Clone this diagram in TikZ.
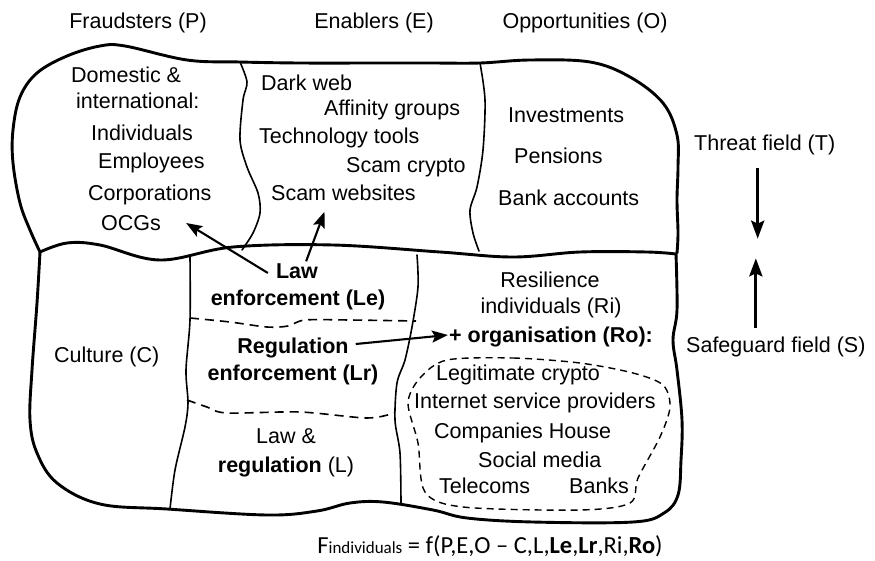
\documentclass[tikz,border=0pt]{standalone}
\usepackage{fontspec}
\setmainfont{Liberation Sans}
\newfontfamily\formulafont{Carlito}
\usetikzlibrary{arrows.meta}

\begin{document}
\begin{tikzpicture}[x=1pt,y=-1pt,
  outline/.style={line width=2.9pt, line join=round, line cap=round},
  divider/.style={line width=1.6pt, line cap=round},
  dashline/.style={line width=1.6pt, dash pattern=on 9pt off 6pt},
  dashblob/.style={line width=1.4pt, dash pattern=on 7pt off 5pt},
  lbl/.style={font=\fontsize{21.5}{25}\selectfont, inner sep=1pt, text height=15pt, text depth=4pt},
  bl/.style={lbl, font=\fontsize{21.5}{25}\selectfont\bfseries},
  arr/.style={line width=2.1pt, -{Stealth[length=16pt,width=12pt,inset=3pt]}},
  bigarr/.style={line width=3.2pt, -{Stealth[length=18pt,width=13pt,inset=3pt]}},
  ]
\useasboundingbox (0,0) rectangle (875,560);

% threat field outline
\draw[outline] plot[smooth, tension=0.6] coordinates {
  (40,252) (30,230) (20,203) (13,163) (13,130) (20,97) (37,73) (67,56) (100,46)
  (125,46) (187,60) (240,62) (300,63) (380,63) (430,63) (480,63) (530,60)
  (590,62) (630,77) (663,103) (677,135) (678,167) (677,200) (678,233) (677,253)};
% boundary between the two fields
\draw[outline] plot[smooth, tension=0.6] coordinates {
  (40,252) (67,243) (100,245) (160,260) (233,247) (333,245) (440,252) (513,257)
  (580,252) (647,252) (676,254)};
% safeguard field outline
\draw[outline] plot[smooth, tension=0.6] coordinates {
  (40,252) (37,303) (32,370) (30,420) (37,453) (57,483) (100,504) (167,509)
  (267,515) (317,511) (350,503) (383,502) (433,510) (467,518) (533,522)
  (633,522) (664,513) (678,495) (681,460) (682,420) (677,370) (673,340)
  (677,310) (676,254)};

% column dividers
\draw[divider] plot[smooth] coordinates {
  (240,62) (247,82) (243,100) (240,140) (247,167) (258,193) (260,213) (253,233) (242,250)};
\draw[divider] plot[smooth] coordinates {
  (480,63) (485,100) (483,150) (477,187) (470,210) (473,233) (479,251)};
\draw[divider] plot[smooth] coordinates {
  (190,257) (190,320) (186,370) (188,403) (185,427) (175,470) (170,509)};
\draw[divider] plot[smooth] coordinates {
  (417,255) (418,287) (412,327) (405,360) (397,383) (395,420) (400,453) (401,504)};

% sub-divisions of the law column
\draw[dashline] plot[smooth] coordinates {
  (190,318) (230,322) (267,327) (288,326) (305,320) (350,320) (416,321)};
\draw[dashline] plot[smooth] coordinates {
  (187,400) (207,407) (227,413) (300,412) (367,418) (394,413)};

% group of organisations
\draw[dashblob] plot[smooth cycle] coordinates {
  (447,360) (513,358) (580,363) (633,373) (663,385) (670,407) (660,437)
  (638,478) (630,503) (580,510) (463,507) (425,492) (418,443) (408,403) (420,378)};

% column headings
\node[lbl] (fraud) at (138,23) {Fraudsters (P)};
\node[lbl] (enab)  at (374,23) {Enablers (E)};
\node[lbl] (opp)   at (585,23) {Opportunities (O)};

% fraudsters
\node[lbl, anchor=west] (dom)   at (70,77)  {Domestic \&};
\node[lbl, anchor=west] (intl)  at (75,103) {international:};
\node[lbl, anchor=west] (indiv) at (90,135) {Individuals};
\node[lbl, anchor=west] (empl)  at (97,163) {Employees};
\node[lbl, anchor=west] (corp)  at (87,195) {Corporations};
\node[lbl, anchor=west] (ocg)   at (100,225) {OCGs};

% enablers
\node[lbl, anchor=west] (dark)  at (260,85)  {Dark web};
\node[lbl, anchor=west] (aff)   at (323,110) {Affinity groups};
\node[lbl, anchor=west] (tech)  at (258,138) {Technology tools};
\node[lbl, anchor=west] (scamc) at (345,167) {Scam crypto};
\node[lbl, anchor=west] (scamw) at (270,195) {Scam websites};

% opportunities
\node[lbl, anchor=west] (inv)  at (507,117) {Investments};
\node[lbl, anchor=west] (pens) at (513,158) {Pensions};
\node[lbl, anchor=west] (bank) at (497,200) {Bank accounts};

% field labels
\node[lbl, anchor=west] (threat) at (693,145) {Threat field (T)};
\node[lbl, anchor=west] (safe)   at (685,347) {Safeguard field (S)};

% safeguard field contents
\node[lbl, anchor=west] (culture) at (53,357) {Culture (C)};
\node[bl] (law)   at (297,273) {Law};
\node[bl] (enfle) at (298,300) {enforcement (Le)};
\node[bl] (regul) at (293,348) {Regulation};
\node[bl] (enflr) at (293,375) {enforcement (Lr)};
\node[lbl] (lawamp) at (286,438) {Law \&};
\node[lbl] (regl)   at (286,467) {\textbf{regulation} (L)};

\node[lbl] (resil) at (550,282) {Resilience};
\node[lbl] (indri) at (551,308) {individuals (Ri)};
\node[bl]  (org)   at (551,337) {+ organisation (Ro):};

\node[lbl, anchor=west] (legit)  at (435,375) {Legitimate crypto};
\node[lbl, anchor=west] (isp)    at (413,403) {Internet service providers};
\node[lbl, anchor=west] (comp)   at (433,433) {Companies House};
\node[lbl, anchor=west] (social) at (477,462) {Social media};
\node[lbl, anchor=west] (tele)   at (438,488) {Telecoms};
\node[lbl, anchor=west] (banks)  at (568,488) {Banks};

% formula
\node[inner sep=1pt, font=\formulafont\fontsize{24.5}{28}\selectfont] (formula) at (490,546)
  {F{\fontsize{17}{20}\selectfont individuals} = f(P,E,O \textendash{} C,L,\textbf{Le},\textbf{Lr},Ri,\textbf{Ro})};

% influences
\draw[arr] ([xshift=-7pt]law.west) -- ([xshift=24pt,yshift=2pt]ocg.east);
\draw[arr] ([xshift=-13pt,yshift=1pt]law.north east) -- ([xshift=-19pt,yshift=-6pt]scamw.south);
\draw[arr] ([xshift=6pt,yshift=4pt]regul.east) -- ([yshift=2pt]org.west);
\draw[bigarr] ([xshift=-7pt,yshift=-12pt]threat.south) -- ([xshift=-7pt,yshift=-83pt]threat.south);
\draw[bigarr] ([xshift=-20pt,yshift=8pt]safe.north) -- ([xshift=-20pt,yshift=78pt]safe.north);
\end{tikzpicture}
\end{document}
